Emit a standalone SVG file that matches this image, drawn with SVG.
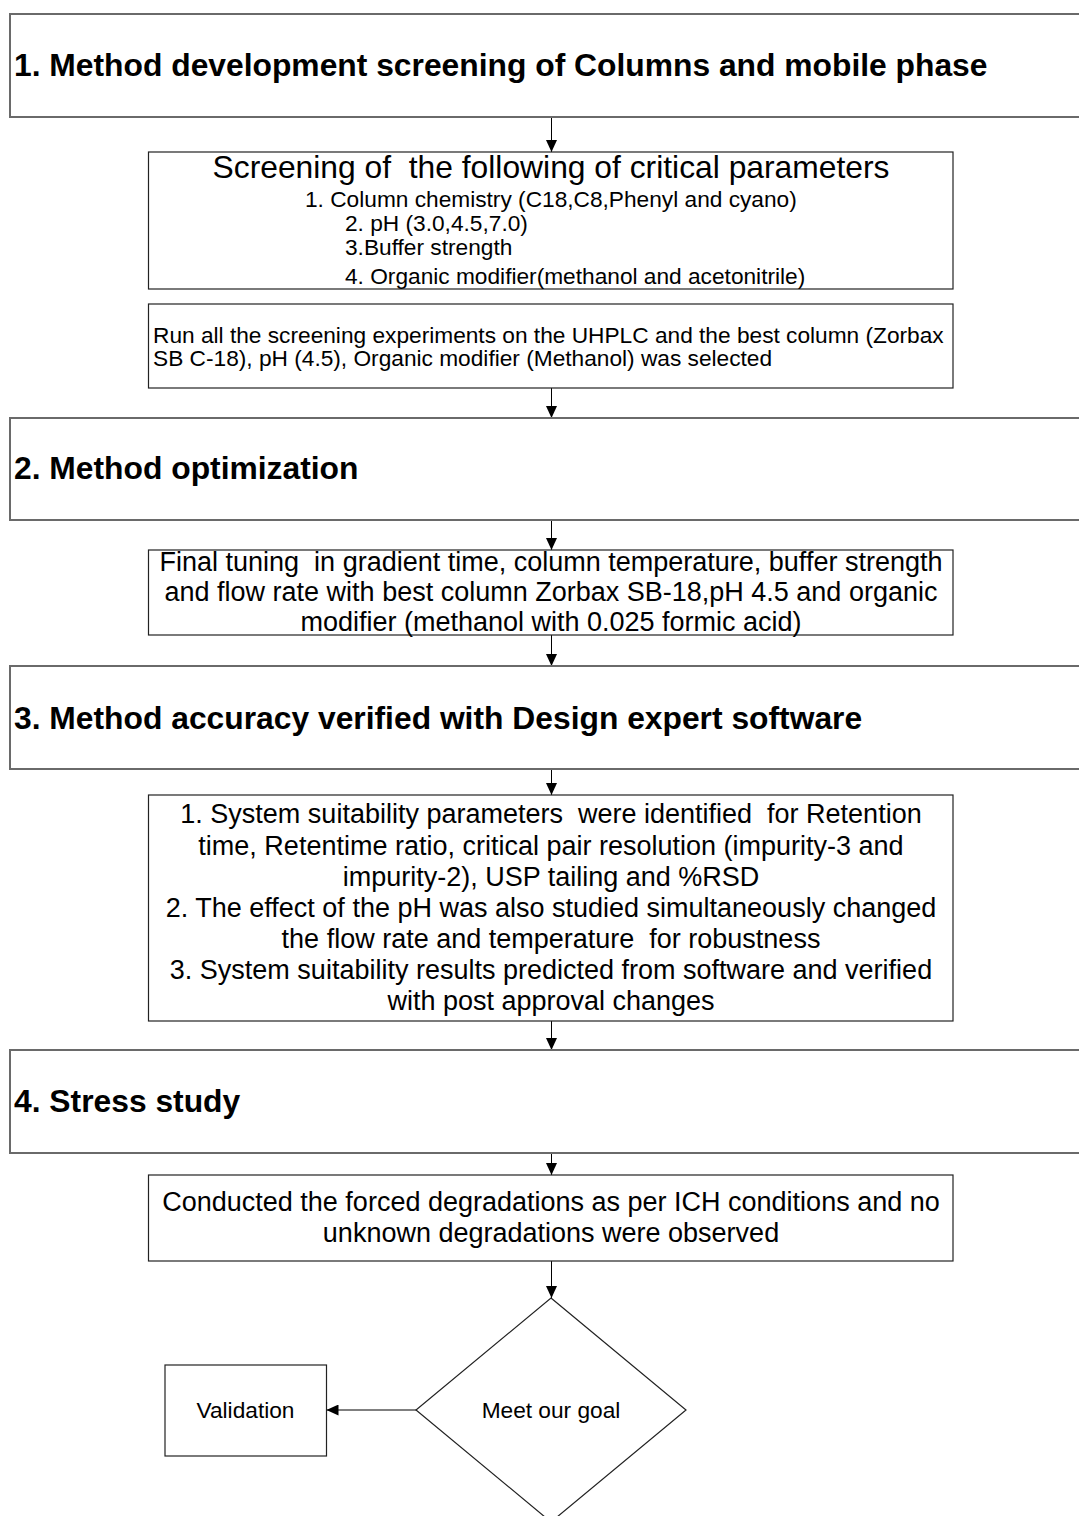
<svg xmlns="http://www.w3.org/2000/svg" width="1079" height="1516" viewBox="0 0 1079 1516">
<defs>
<marker id="ah" markerWidth="12" markerHeight="11" refX="12" refY="5.5" orient="auto" markerUnits="userSpaceOnUse" viewBox="0 0 12 11">
<path d="M0,0 L12,5.5 L0,11 Z" fill="#000"/>
</marker>
<style>
.sec{fill:#fff;stroke:#6a6a6a;stroke-width:2}
.box{fill:#fff;stroke:#222;stroke-width:1.2}
.st{font-family:"Liberation Sans",Arial,sans-serif;font-weight:bold;font-size:31.8px;fill:#000}
.t23{font-family:"Liberation Sans",Arial,sans-serif;font-size:22.7px;fill:#000}
.t27{font-family:"Liberation Sans",Arial,sans-serif;font-size:27px;fill:#000}
.t32{font-family:"Liberation Sans",Arial,sans-serif;font-size:31.8px;fill:#000}
.c{text-anchor:middle}
.conn{stroke:#000;stroke-width:1;fill:none;marker-end:url(#ah)}
</style>
</defs>
<g id="connectors">
<line class="conn" x1="551.5" y1="117" x2="551.5" y2="152"/>
<line class="conn" x1="551.5" y1="388" x2="551.5" y2="418"/>
<line class="conn" x1="551.5" y1="520" x2="551.5" y2="550"/>
<line class="conn" x1="551.5" y1="635" x2="551.5" y2="666"/>
<line class="conn" x1="551.5" y1="769" x2="551.5" y2="795"/>
<line class="conn" x1="551.5" y1="1021" x2="551.5" y2="1050"/>
<line class="conn" x1="551.5" y1="1153" x2="551.5" y2="1175"/>
<line class="conn" x1="551.5" y1="1261" x2="551.5" y2="1298"/>
<line class="conn" x1="416" y1="1410" x2="326.5" y2="1410"/>
</g>
<g id="section1">
<rect class="sec" x="10" y="14" width="1080" height="103"/>
<text class="st" x="14" y="76">1. Method development screening of Columns and mobile phase</text>
</g>
<g id="screening">
<rect class="box" x="148.5" y="152" width="804.5" height="137"/>
<text class="t32 c" x="551" y="178" xml:space="preserve">Screening of  the following of critical parameters</text>
<text class="t23" x="305" y="207">1. Column chemistry (C18,C8,Phenyl and cyano)</text>
<text class="t23" x="345" y="231">2. pH (3.0,4.5,7.0)</text>
<text class="t23" x="345" y="255">3.Buffer strength</text>
<text class="t23" x="345" y="284">4. Organic modifier(methanol and acetonitrile)</text>
</g>
<g id="run">
<rect class="box" x="148.5" y="304" width="804.5" height="84"/>
<text class="t23" x="153" y="343">Run all the screening experiments on the UHPLC and the best column (Zorbax</text>
<text class="t23" x="153" y="366">SB C-18), pH (4.5), Organic modifier (Methanol) was selected</text>
</g>
<g id="section2">
<rect class="sec" x="10" y="418" width="1080" height="102"/>
<text class="st" x="14" y="479">2. Method optimization</text>
</g>
<g id="tuning">
<rect class="box" x="148.5" y="550" width="804.5" height="85"/>
<text class="t27 c" x="551" y="571" xml:space="preserve">Final tuning  in gradient time, column temperature, buffer strength</text>
<text class="t27 c" x="551" y="601">and flow rate with best column Zorbax SB-18,pH 4.5 and organic</text>
<text class="t27 c" x="551" y="631">modifier (methanol with 0.025 formic acid)</text>
</g>
<g id="section3">
<rect class="sec" x="10" y="666" width="1080" height="103"/>
<text class="st" x="14" y="729">3. Method accuracy verified with Design expert software</text>
</g>
<g id="suitability">
<rect class="box" x="148.5" y="795" width="804.5" height="226"/>
<text class="t27 c" x="551" y="823" xml:space="preserve">1. System suitability parameters  were identified  for Retention</text>
<text class="t27 c" x="551" y="855">time, Retentime ratio, critical pair resolution (impurity-3 and</text>
<text class="t27 c" x="551" y="886">impurity-2), USP tailing and %RSD</text>
<text class="t27 c" x="551" y="917">2. The effect of the pH was also studied simultaneously changed</text>
<text class="t27 c" x="551" y="948" xml:space="preserve">the flow rate and temperature  for robustness</text>
<text class="t27 c" x="551" y="979">3. System suitability results predicted from software and verified</text>
<text class="t27 c" x="551" y="1010">with post approval changes</text>
</g>
<g id="section4">
<rect class="sec" x="10" y="1050" width="1080" height="103"/>
<text class="st" x="14" y="1112">4. Stress study</text>
</g>
<g id="forced">
<rect class="box" x="148.5" y="1175" width="804.5" height="86"/>
<text class="t27 c" x="551" y="1211">Conducted the forced degradations as per ICH conditions and no</text>
<text class="t27 c" x="551" y="1242">unknown degradations were observed</text>
</g>
<g id="decision">
<path class="box" d="M551,1298 L686,1410 L551,1522 L416,1410 Z"/>
<text class="t23 c" x="551" y="1418">Meet our goal</text>
</g>
<g id="validation">
<rect class="box" x="165" y="1365" width="161.5" height="91"/>
<text class="t23 c" x="245.5" y="1418">Validation</text>
</g>
</svg>
